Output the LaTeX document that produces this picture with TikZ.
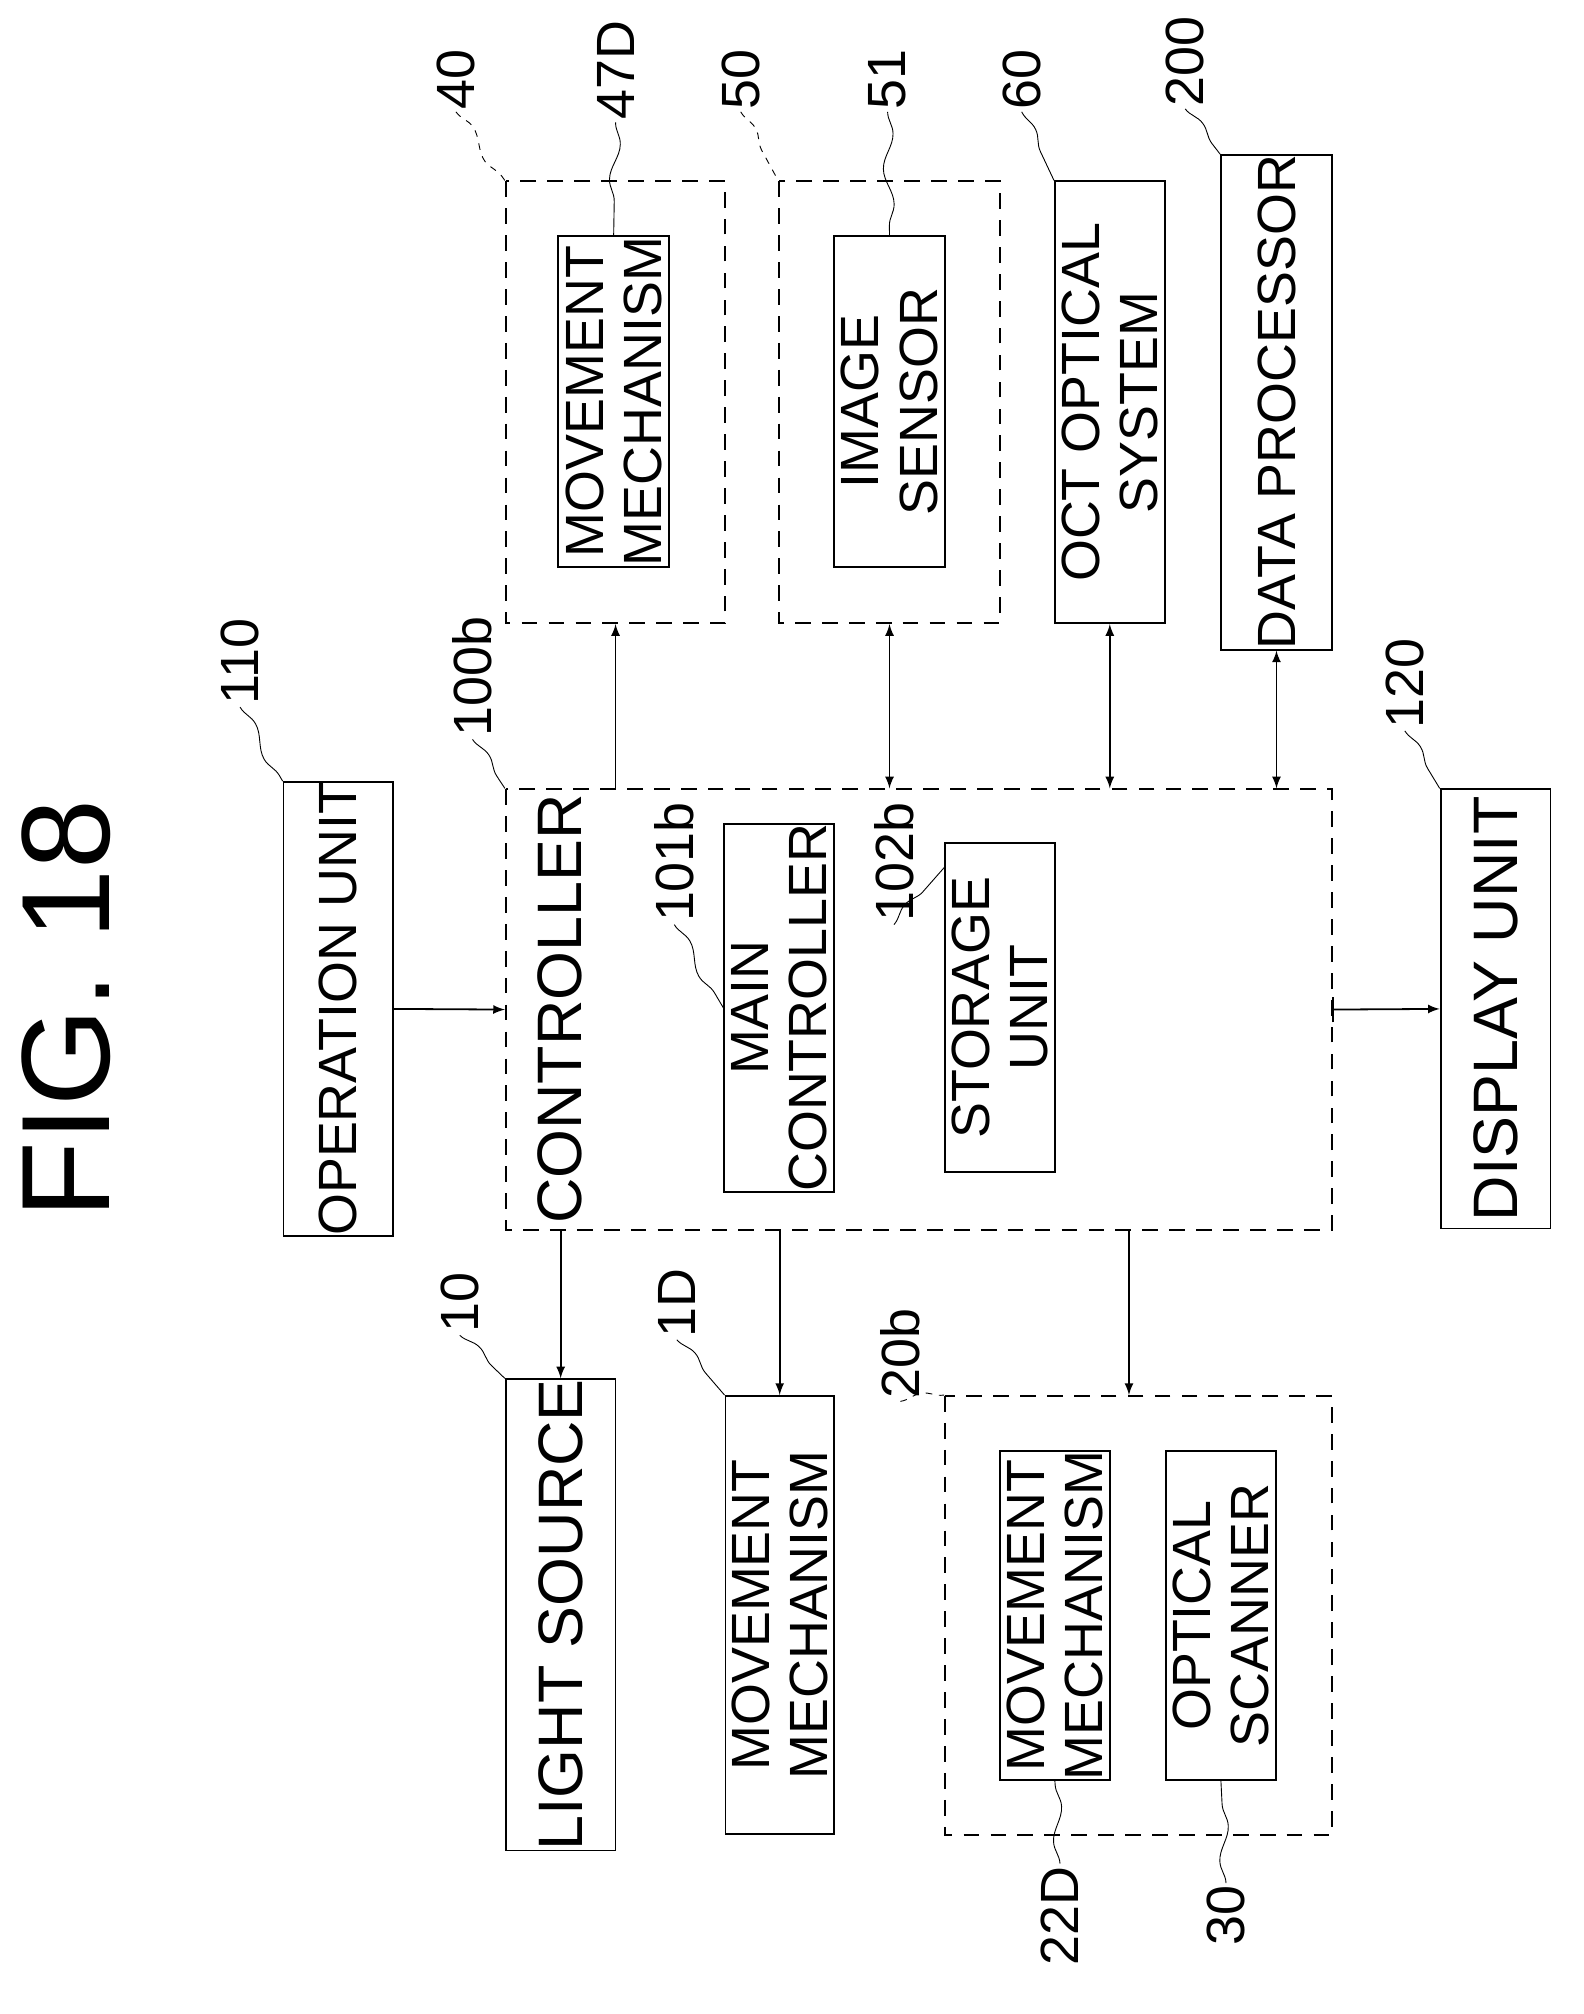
\documentclass[tikz,border=0pt]{standalone}
\usepackage{fontspec}
\setmainfont{Liberation Sans}
\usetikzlibrary{decorations.pathmorphing}
\begin{document}
\begin{tikzpicture}[x=0.02cm,y=-0.02cm]
 \tikzstyle{blk}=[draw, thick, rotate=90, align=center, font=\fontsize{24}{26}\selectfont, inner sep=0pt]
 \tikzstyle{dbox}=[blk, dashed, dash pattern=on 7pt off 5pt]
 \tikzstyle{lbl}=[rotate=90, font=\fontsize{24}{26}\selectfont, inner sep=1pt]
 \tikzstyle{arr}=[->, >=latex, thick]
 \tikzstyle{darr}=[<->, >=latex, thick]
 \tikzstyle{lead}=[decorate, decoration={snake, amplitude=0.8mm, segment length=1.1cm}]
 \useasboundingbox (0,0) rectangle (1240,1577);
 %
 \node[rotate=90, font=\fontsize{56}{60}\selectfont] (fig) at (52,790) {FIG. 18};
 %
 \node[blk, minimum width=6.88cm, minimum height=1.72cm] (opu) at (265,790) {OPERATION UNIT};
 \node[dbox, minimum width=6.9cm, minimum height=12.94cm] (ctrl) at (719.5,790.5) {};
 \node[lbl, font=\fontsize{28}{30}\selectfont] (ctrltxt) at (438,790) {CONTROLLER};
 \node[blk, minimum width=5.16cm, minimum height=1.72cm] (mctrl) at (610,789) {MAIN\\CONTROLLER};
 \node[blk, minimum width=5.16cm, minimum height=1.72cm] (stor) at (783,789) {STORAGE\\UNIT};
 \node[blk, minimum width=6.88cm, minimum height=1.72cm, font=\fontsize{28}{30}\selectfont] (disp) at (1171,790) {DISPLAY UNIT};
 %
 \node[dbox, minimum width=6.92cm, minimum height=3.44cm] (b40) at (482,315) {};
 \node[blk, minimum width=5.18cm, minimum height=1.74cm] (mm47) at (480.5,314.5) {MOVEMENT\\MECHANISM};
 \node[dbox, minimum width=6.92cm, minimum height=3.46cm] (b50) at (696.5,315) {};
 \node[blk, minimum width=5.18cm, minimum height=1.74cm] (isen) at (696.5,314.5) {IMAGE\\SENSOR};
 \node[blk, minimum width=6.92cm, minimum height=1.72cm] (oct) at (869,315) {OCT OPTICAL\\SYSTEM};
 \node[blk, minimum width=6.92cm, minimum height=1.74cm] (dp) at (999.5,315) {DATA PROCESSOR};
 %
 \node[blk, minimum width=6.86cm, minimum height=1.72cm, font=\fontsize{28}{30}\selectfont] (ls) at (439,1264.5) {LIGHT SOURCE};
 \node[blk, minimum width=6.86cm, minimum height=1.7cm] (mm1) at (610.5,1264.5) {MOVEMENT\\MECHANISM};
 \node[dbox, minimum width=6.88cm, minimum height=6.06cm] (b20) at (891.5,1265) {};
 \node[blk, minimum width=5.16cm, minimum height=1.72cm] (mm22) at (826,1265) {MOVEMENT\\MECHANISM};
 \node[blk, minimum width=5.16cm, minimum height=1.72cm] (osc) at (956,1265) {OPTICAL\\SCANNER};
 %%
 \draw[arr] (opu.south) -- (ctrl.north);
 \draw[arr] (b40.center |- ctrl.east) -- (b40.west);
 \draw[darr] (b50.center |- ctrl.east) -- (b50.west);
 \draw[darr] (oct.center |- ctrl.east) -- (oct.west);
 \draw[darr] (dp.center |- ctrl.east) -- (dp.west);
 \draw[arr] (ctrl.south) -- (disp.north);
 \draw[thick] ([yshift=-0.2cm]ctrl.south) -- ([yshift=0.2cm]ctrl.south);
 \draw[arr] (ls.center |- ctrl.west) -- (ls.east);
 \draw[arr] (mm1.center |- ctrl.west) -- (mm1.east);
 \draw[arr] (884,963) coordinate (c20) -- (c20 |- b20.east);
 %% labels
 \node[lbl] (l110) at (188,518) {110};
 \draw[lead] (l110.west) -- (opu.north east);
 \node[lbl] (l100b) at (370,530) {100b};
 \draw[lead] (l100b.west) -- (ctrl.north east);
 \node[lbl] (l40) at (357,62) {40};
 \draw[lead, dashed] (l40.west) -- (b40.north east);
 \node[lbl] (l47D) at (482,55) {47D};
 \draw[lead] (l47D.west) -- (mm47.east);
 \node[lbl] (l50) at (580,62) {50};
 \draw[lead, dashed] (l50.west) -- (b50.north east);
 \node[lbl] (l51) at (695,62) {51};
 \draw[lead] (l51.west) -- (isen.east);
 \node[lbl] (l60) at (800,62) {60};
 \draw[lead] (l60.west) -- (oct.north east);
 \node[lbl] (l200) at (928,48) {200};
 \draw[lead] (l200.west) -- (dp.north east);
 \node[lbl] (l120) at (1100,535) {120};
 \draw[lead] (l120.west) -- (disp.north east);
 \node[lbl] (l101b) at (528,675) {101b};
 \draw[lead] (l101b.west) -- (mctrl.north);
 \node[lbl] (l102b) at (700,675) {102b};
 \draw[lead] (l102b.west) -- ([yshift=-0.4cm]stor.north east);
 \node[lbl] (l10) at (360,1020) {10};
 \draw[lead] (l10.west) -- (ls.north east);
 \node[lbl] (l1D) at (530,1020) {1D};
 \draw[lead] (l1D.west) -- (mm1.north east);
 \node[lbl] (l20b) at (705,1060) {20b};
 \draw[lead, dashed] (l20b.west) -- (b20.north east);
 \node[lbl] (l22D) at (830,1500) {22D};
 \draw[lead] (l22D.east) -- (mm22.west);
 \node[lbl] (l30) at (960,1500) {30};
 \draw[lead] (l30.east) -- (osc.west);
\end{tikzpicture}
\end{document}
